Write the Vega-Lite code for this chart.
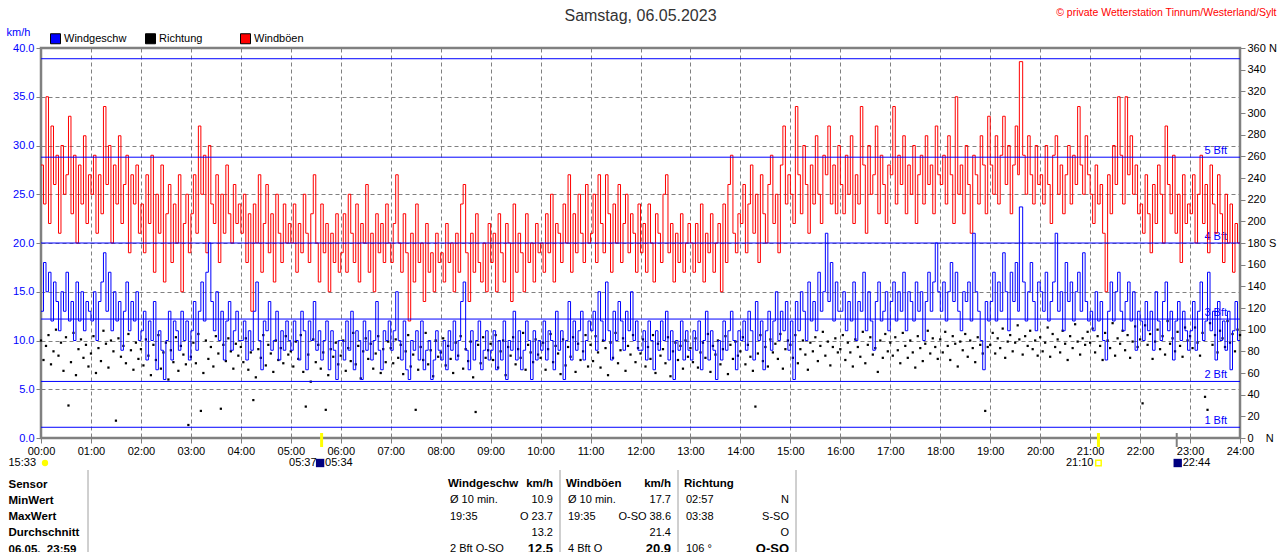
{
  "$schema": "https://vega.github.io/schema/vega-lite/v6.json",
  "width": 1199,
  "height": 390,
  "autosize": {"type": "none"},
  "padding": {"left": 41, "top": 48, "right": 40, "bottom": 114},
  "background": "#ffffff",
  "config": {
    "font": "Liberation Sans",
    "view": {"stroke": "#808080", "strokeWidth": 2.5},
    "axis": {"labelFont": "Liberation Sans", "titleFont": "Liberation Sans", "labelFontSize": 11},
    "text": {"font": "Liberation Sans", "fontSize": 11}
  },
  "title": {
    "text": "Samstag, 06.05.2023",
    "font": "Liberation Sans",
    "fontSize": 16,
    "fontWeight": "normal",
    "color": "#333333",
    "frame": "group",
    "anchor": "middle",
    "offset": -17
  },
  "datasets": {
    "wind": [
      {"t":0,"g":28,"w":13,"d":90},{"t":3,"g":24,"w":18,"d":72},{"t":6,"g":35,"w":15,"d":85},{"t":9,"g":22,"w":17,"d":95},{"t":12,"g":32,"w":12,"d":68},{"t":15,"g":26,"w":16,"d":80},{"t":18,"g":29,"w":14,"d":100},{"t":21,"g":21,"w":11,"d":76},{"t":24,"g":30,"w":15,"d":88},{"t":27,"g":25,"w":13,"d":62},{"t":30,"g":27,"w":17,"d":93},{"t":33,"g":33,"w":12,"d":30},{"t":36,"g":23,"w":14,"d":70},{"t":39,"g":29,"w":10,"d":97},{"t":42,"g":20,"w":16,"d":58},{"t":45,"g":28,"w":12,"d":82},{"t":48,"g":24,"w":15,"d":91},{"t":51,"g":31,"w":11,"d":74},{"t":54,"g":22,"w":14,"d":86},{"t":57,"g":27,"w":13,"d":66},
      {"t":60,"g":25,"w":12,"d":78},{"t":63,"g":29,"w":15,"d":94},{"t":66,"g":21,"w":10,"d":60},{"t":69,"g":27,"w":14,"d":83},{"t":72,"g":23,"w":16,"d":71},{"t":75,"g":34,"w":19,"d":99},{"t":78,"g":26,"w":13,"d":87},{"t":81,"g":30,"w":17,"d":65},{"t":84,"g":20,"w":11,"d":90},{"t":87,"g":28,"w":15,"d":80},{"t":90,"g":24,"w":12,"d":16},{"t":93,"g":31,"w":14,"d":92},{"t":96,"g":22,"w":9,"d":75},{"t":99,"g":26,"w":13,"d":85},{"t":102,"g":29,"w":16,"d":69},{"t":105,"g":19,"w":11,"d":96},{"t":108,"g":27,"w":14,"d":81},{"t":111,"g":24,"w":12,"d":63},{"t":114,"g":28,"w":15,"d":88},{"t":117,"g":21,"w":10,"d":73},
      {"t":120,"g":24,"w":11,"d":82},{"t":123,"g":19,"w":13,"d":67},{"t":126,"g":27,"w":8,"d":91},{"t":129,"g":22,"w":12,"d":76},{"t":132,"g":29,"w":10,"d":58},{"t":135,"g":17,"w":14,"d":86},{"t":138,"g":25,"w":7,"d":72},{"t":141,"g":21,"w":11,"d":95},{"t":144,"g":28,"w":9,"d":64},{"t":147,"g":16,"w":6,"d":79},{"t":150,"g":23,"w":10,"d":88},{"t":153,"g":26,"w":13,"d":54},{"t":156,"g":18,"w":8,"d":81},{"t":159,"g":24,"w":12,"d":70},{"t":162,"g":20,"w":11,"d":93},{"t":165,"g":27,"w":9,"d":62},{"t":168,"g":15,"w":13,"d":85},{"t":171,"g":22,"w":10,"d":77},{"t":174,"g":25,"w":12,"d":68},{"t":177,"g":19,"w":8,"d":12},
      {"t":180,"g":23,"w":11,"d":75},{"t":183,"g":27,"w":14,"d":88},{"t":186,"g":21,"w":9,"d":69},{"t":189,"g":32,"w":13,"d":96},{"t":192,"g":25,"w":16,"d":25},{"t":195,"g":29,"w":12,"d":60},{"t":198,"g":19,"w":17,"d":90},{"t":201,"g":30,"w":20,"d":73},{"t":204,"g":24,"w":14,"d":84},{"t":207,"g":22,"w":11,"d":66},{"t":210,"g":27,"w":15,"d":94},{"t":213,"g":18,"w":10,"d":78},{"t":216,"g":25,"w":13,"d":27},{"t":219,"g":21,"w":8,"d":86},{"t":222,"g":28,"w":12,"d":71},{"t":225,"g":23,"w":14,"d":92},{"t":228,"g":20,"w":9,"d":80},{"t":231,"g":26,"w":11,"d":64},{"t":234,"g":22,"w":13,"d":87},{"t":237,"g":24,"w":10,"d":76},
      {"t":240,"g":21,"w":10,"d":84},{"t":243,"g":25,"w":12,"d":70},{"t":246,"g":18,"w":8,"d":92},{"t":249,"g":23,"w":11,"d":63},{"t":252,"g":13,"w":9,"d":79},{"t":255,"g":24,"w":13,"d":35},{"t":258,"g":20,"w":16,"d":56},{"t":261,"g":27,"w":10,"d":82},{"t":264,"g":17,"w":7,"d":74},{"t":267,"g":22,"w":12,"d":95},{"t":270,"g":26,"w":11,"d":67},{"t":273,"g":19,"w":14,"d":86},{"t":276,"g":23,"w":9,"d":78},{"t":279,"g":16,"w":10,"d":61},{"t":282,"g":25,"w":13,"d":90},{"t":285,"g":21,"w":8,"d":72},{"t":288,"g":18,"w":11,"d":83},{"t":291,"g":24,"w":9,"d":69},{"t":294,"g":20,"w":12,"d":94},{"t":297,"g":22,"w":10,"d":77},
      {"t":300,"g":20,"w":9,"d":80},{"t":303,"g":24,"w":12,"d":66},{"t":306,"g":17,"w":10,"d":89},{"t":309,"g":22,"w":8,"d":73},{"t":312,"g":19,"w":13,"d":95},{"t":315,"g":25,"w":11,"d":61},{"t":318,"g":21,"w":7,"d":29},{"t":321,"g":18,"w":12,"d":77},{"t":324,"g":23,"w":10,"d":52},{"t":327,"g":27,"w":14,"d":91},{"t":330,"g":20,"w":9,"d":70},{"t":333,"g":16,"w":11,"d":86},{"t":336,"g":24,"w":8,"d":64},{"t":339,"g":19,"w":10,"d":79},{"t":342,"g":22,"w":12,"d":26},{"t":345,"g":15,"w":7,"d":58},{"t":348,"g":21,"w":11,"d":82},{"t":351,"g":18,"w":9,"d":75},{"t":354,"g":23,"w":6,"d":88},{"t":357,"g":17,"w":10,"d":68},
      {"t":360,"g":19,"w":10,"d":76},{"t":363,"g":23,"w":8,"d":90},{"t":366,"g":17,"w":12,"d":62},{"t":369,"g":25,"w":9,"d":83},{"t":372,"g":21,"w":13,"d":71},{"t":375,"g":18,"w":7,"d":97},{"t":378,"g":24,"w":11,"d":68},{"t":381,"g":16,"w":10,"d":85},{"t":384,"g":22,"w":6,"d":55},{"t":387,"g":20,"w":12,"d":80},{"t":390,"g":26,"w":9,"d":92},{"t":393,"g":17,"w":11,"d":73},{"t":396,"g":21,"w":8,"d":87},{"t":399,"g":15,"w":10,"d":64},{"t":402,"g":23,"w":14,"d":78},{"t":405,"g":19,"w":9,"d":94},{"t":408,"g":22,"w":7,"d":60},{"t":411,"g":18,"w":11,"d":82},{"t":414,"g":24,"w":10,"d":70},{"t":417,"g":20,"w":12,"d":89},
      {"t":420,"g":18,"w":9,"d":83},{"t":423,"g":22,"w":11,"d":69},{"t":426,"g":27,"w":15,"d":91},{"t":429,"g":20,"w":10,"d":74},{"t":432,"g":17,"w":8,"d":86},{"t":435,"g":23,"w":12,"d":59},{"t":438,"g":19,"w":7,"d":80},{"t":441,"g":12,"w":6,"d":95},{"t":444,"g":21,"w":10,"d":66},{"t":447,"g":16,"w":9,"d":77},{"t":450,"g":24,"w":11,"d":26},{"t":453,"g":18,"w":8,"d":63},{"t":456,"g":20,"w":12,"d":84},{"t":459,"g":14,"w":7,"d":72},{"t":462,"g":22,"w":9,"d":97},{"t":465,"g":17,"w":10,"d":68},{"t":468,"g":19,"w":6,"d":81},{"t":471,"g":15,"w":8,"d":57},{"t":474,"g":21,"w":11,"d":90},{"t":477,"g":18,"w":9,"d":75},
      {"t":480,"g":19,"w":8,"d":79},{"t":483,"g":16,"w":10,"d":92},{"t":486,"g":22,"w":7,"d":67},{"t":489,"g":18,"w":11,"d":85},{"t":492,"g":20,"w":9,"d":73},{"t":495,"g":15,"w":12,"d":60},{"t":498,"g":21,"w":8,"d":88},{"t":501,"g":17,"w":10,"d":76},{"t":504,"g":24,"w":14,"d":94},{"t":507,"g":26,"w":16,"d":64},{"t":510,"g":19,"w":9,"d":82},{"t":513,"g":14,"w":7,"d":71},{"t":516,"g":21,"w":11,"d":89},{"t":519,"g":17,"w":8,"d":56},{"t":522,"g":23,"w":10,"d":24},{"t":525,"g":18,"w":12,"d":86},{"t":528,"g":16,"w":7,"d":69},{"t":531,"g":20,"w":9,"d":93},{"t":534,"g":15,"w":11,"d":74},{"t":537,"g":22,"w":8,"d":81},
      {"t":540,"g":18,"w":9,"d":87},{"t":543,"g":21,"w":11,"d":72},{"t":546,"g":15,"w":7,"d":95},{"t":549,"g":23,"w":10,"d":65},{"t":552,"g":19,"w":8,"d":80},{"t":555,"g":16,"w":12,"d":90},{"t":558,"g":22,"w":6,"d":58},{"t":561,"g":20,"w":10,"d":84},{"t":564,"g":14,"w":9,"d":76},{"t":567,"g":24,"w":13,"d":93},{"t":570,"g":17,"w":8,"d":68},{"t":573,"g":21,"w":11,"d":82},{"t":576,"g":19,"w":7,"d":74},{"t":579,"g":15,"w":9,"d":97},{"t":582,"g":23,"w":12,"d":63},{"t":585,"g":18,"w":10,"d":86},{"t":588,"g":20,"w":6,"d":79},{"t":591,"g":16,"w":11,"d":70},{"t":594,"g":22,"w":8,"d":91},{"t":597,"g":19,"w":10,"d":77},
      {"t":600,"g":20,"w":9,"d":74},{"t":603,"g":17,"w":12,"d":88},{"t":606,"g":23,"w":8,"d":63},{"t":609,"g":19,"w":11,"d":82},{"t":612,"g":25,"w":10,"d":96},{"t":615,"g":16,"w":7,"d":70},{"t":618,"g":22,"w":13,"d":85},{"t":621,"g":21,"w":9,"d":78},{"t":624,"g":18,"w":11,"d":59},{"t":627,"g":24,"w":6,"d":91},{"t":630,"g":20,"w":10,"d":67},{"t":633,"g":27,"w":14,"d":84},{"t":636,"g":17,"w":8,"d":75},{"t":639,"g":23,"w":12,"d":93},{"t":642,"g":19,"w":9,"d":61},{"t":645,"g":25,"w":11,"d":87},{"t":648,"g":21,"w":13,"d":72},{"t":651,"g":18,"w":8,"d":80},{"t":654,"g":26,"w":10,"d":95},{"t":657,"g":20,"w":12,"d":66},
      {"t":660,"g":21,"w":11,"d":86},{"t":663,"g":25,"w":13,"d":71},{"t":666,"g":18,"w":9,"d":94},{"t":669,"g":27,"w":15,"d":79},{"t":672,"g":22,"w":12,"d":65},{"t":675,"g":19,"w":10,"d":90},{"t":678,"g":27,"w":16,"d":83},{"t":681,"g":23,"w":11,"d":58},{"t":684,"g":17,"w":8,"d":88},{"t":687,"g":24,"w":13,"d":74},{"t":690,"g":20,"w":10,"d":97},{"t":693,"g":26,"w":14,"d":69},{"t":696,"g":18,"w":12,"d":81},{"t":699,"g":22,"w":9,"d":92},{"t":702,"g":25,"w":13,"d":62},{"t":705,"g":19,"w":11,"d":85},{"t":708,"g":23,"w":15,"d":77},{"t":711,"g":21,"w":10,"d":95},{"t":714,"g":17,"w":12,"d":70},{"t":717,"g":24,"w":9,"d":83},
      {"t":720,"g":19,"w":9,"d":78},{"t":723,"g":22,"w":11,"d":91},{"t":726,"g":17,"w":8,"d":66},{"t":729,"g":24,"w":12,"d":84},{"t":732,"g":20,"w":10,"d":73},{"t":735,"g":16,"w":7,"d":95},{"t":738,"g":23,"w":11,"d":60},{"t":741,"g":21,"w":9,"d":87},{"t":744,"g":18,"w":12,"d":76},{"t":747,"g":25,"w":10,"d":82},{"t":750,"g":27,"w":13,"d":69},{"t":753,"g":19,"w":8,"d":93},{"t":756,"g":22,"w":11,"d":57},{"t":759,"g":16,"w":6,"d":80},{"t":762,"g":21,"w":10,"d":88},{"t":765,"g":18,"w":9,"d":72},{"t":768,"g":23,"w":12,"d":85},{"t":771,"g":17,"w":8,"d":64},{"t":774,"g":20,"w":11,"d":90},{"t":777,"g":22,"w":9,"d":75},
      {"t":780,"g":20,"w":8,"d":83},{"t":783,"g":17,"w":11,"d":70},{"t":786,"g":22,"w":9,"d":92},{"t":789,"g":18,"w":12,"d":65},{"t":792,"g":24,"w":7,"d":79},{"t":795,"g":16,"w":10,"d":88},{"t":798,"g":21,"w":13,"d":74},{"t":801,"g":19,"w":8,"d":96},{"t":804,"g":23,"w":11,"d":61},{"t":807,"g":17,"w":9,"d":85},{"t":810,"g":20,"w":6,"d":77},{"t":813,"g":22,"w":10,"d":90},{"t":816,"g":15,"w":8,"d":68},{"t":819,"g":24,"w":12,"d":82},{"t":822,"g":18,"w":9,"d":94},{"t":825,"g":26,"w":11,"d":59},{"t":828,"g":29,"w":13,"d":86},{"t":831,"g":21,"w":10,"d":73},{"t":834,"g":19,"w":7,"d":89},{"t":837,"g":23,"w":11,"d":76},
      {"t":840,"g":22,"w":10,"d":80},{"t":843,"g":26,"w":12,"d":93},{"t":846,"g":19,"w":9,"d":68},{"t":849,"g":24,"w":13,"d":86},{"t":852,"g":28,"w":11,"d":75},{"t":855,"g":21,"w":8,"d":62},{"t":858,"g":25,"w":14,"d":29},{"t":861,"g":18,"w":10,"d":78},{"t":864,"g":27,"w":12,"d":95},{"t":867,"g":23,"w":7,"d":71},{"t":870,"g":20,"w":11,"d":84},{"t":873,"g":26,"w":13,"d":66},{"t":876,"g":29,"w":9,"d":91},{"t":879,"g":22,"w":12,"d":79},{"t":882,"g":25,"w":15,"d":87},{"t":885,"g":19,"w":10,"d":73},{"t":888,"g":28,"w":13,"d":96},{"t":891,"g":32,"w":11,"d":64},{"t":894,"g":24,"w":14,"d":82},{"t":897,"g":27,"w":9,"d":90},
      {"t":900,"g":25,"w":12,"d":86},{"t":903,"g":22,"w":6,"d":74},{"t":906,"g":34,"w":14,"d":95},{"t":909,"g":27,"w":11,"d":69},{"t":912,"g":23,"w":15,"d":82},{"t":915,"g":30,"w":13,"d":90},{"t":918,"g":26,"w":10,"d":77},{"t":921,"g":21,"w":16,"d":63},{"t":924,"g":28,"w":12,"d":88},{"t":927,"g":24,"w":14,"d":80},{"t":930,"g":31,"w":11,"d":93},{"t":933,"g":25,"w":17,"d":71},{"t":936,"g":22,"w":13,"d":85},{"t":939,"g":29,"w":15,"d":98},{"t":942,"g":27,"w":21,"d":76},{"t":945,"g":32,"w":14,"d":89},{"t":948,"g":24,"w":18,"d":67},{"t":951,"g":28,"w":12,"d":84},{"t":954,"g":23,"w":16,"d":92},{"t":957,"g":30,"w":13,"d":79},
      {"t":960,"g":26,"w":13,"d":82},{"t":963,"g":23,"w":15,"d":95},{"t":966,"g":29,"w":11,"d":72},{"t":969,"g":25,"w":14,"d":88},{"t":972,"g":31,"w":12,"d":79},{"t":975,"g":22,"w":16,"d":66},{"t":978,"g":27,"w":10,"d":91},{"t":981,"g":24,"w":14,"d":84},{"t":984,"g":34,"w":13,"d":75},{"t":987,"g":28,"w":17,"d":98},{"t":990,"g":21,"w":11,"d":69},{"t":993,"g":30,"w":15,"d":86},{"t":996,"g":25,"w":12,"d":93},{"t":999,"g":27,"w":9,"d":77},{"t":1002,"g":32,"w":14,"d":83},{"t":1005,"g":23,"w":16,"d":61},{"t":1008,"g":29,"w":12,"d":90},{"t":1011,"g":26,"w":13,"d":74},{"t":1014,"g":22,"w":15,"d":96},{"t":1017,"g":28,"w":11,"d":80},
      {"t":1020,"g":27,"w":14,"d":88},{"t":1023,"g":34,"w":16,"d":76},{"t":1026,"g":24,"w":12,"d":93},{"t":1029,"g":29,"w":15,"d":81},{"t":1032,"g":26,"w":13,"d":69},{"t":1035,"g":31,"w":17,"d":97},{"t":1038,"g":23,"w":11,"d":85},{"t":1041,"g":28,"w":15,"d":74},{"t":1044,"g":25,"w":14,"d":90},{"t":1047,"g":30,"w":12,"d":79},{"t":1050,"g":22,"w":16,"d":65},{"t":1053,"g":27,"w":13,"d":94},{"t":1056,"g":29,"w":15,"d":83},{"t":1059,"g":24,"w":10,"d":71},{"t":1062,"g":31,"w":14,"d":87},{"t":1065,"g":26,"w":17,"d":99},{"t":1068,"g":28,"w":13,"d":78},{"t":1071,"g":23,"w":16,"d":92},{"t":1074,"g":32,"w":20,"d":84},{"t":1077,"g":27,"w":15,"d":73},
      {"t":1080,"g":26,"w":13,"d":91},{"t":1083,"g":29,"w":16,"d":79},{"t":1086,"g":24,"w":12,"d":98},{"t":1089,"g":31,"w":15,"d":85},{"t":1092,"g":27,"w":18,"d":72},{"t":1095,"g":22,"w":14,"d":94},{"t":1098,"g":35,"w":17,"d":87},{"t":1101,"g":25,"w":13,"d":66},{"t":1104,"g":28,"w":11,"d":89},{"t":1107,"g":23,"w":15,"d":81},{"t":1110,"g":30,"w":14,"d":96},{"t":1113,"g":26,"w":16,"d":75},{"t":1116,"g":21,"w":12,"d":90},{"t":1119,"g":29,"w":21,"d":83},{"t":1122,"g":27,"w":15,"d":70},{"t":1125,"g":24,"w":13,"d":93},{"t":1128,"g":31,"w":10,"d":86},{"t":1131,"g":28,"w":7,"d":78},{"t":1134,"g":23,"w":14,"d":25},{"t":1137,"g":33,"w":12,"d":84},
      {"t":1140,"g":28,"w":14,"d":86},{"t":1143,"g":25,"w":17,"d":97},{"t":1146,"g":31,"w":12,"d":78},{"t":1149,"g":24,"w":16,"d":92},{"t":1152,"g":29,"w":13,"d":83},{"t":1155,"g":33,"w":19,"d":101},{"t":1158,"g":26,"w":15,"d":74},{"t":1161,"g":30,"w":11,"d":89},{"t":1164,"g":23,"w":17,"d":95},{"t":1167,"g":28,"w":14,"d":80},{"t":1170,"g":32,"w":18,"d":88},{"t":1173,"g":27,"w":13,"d":104},{"t":1175,"g":38.6,"w":23.7,"d":91},{"t":1179,"g":29,"w":16,"d":77},{"t":1182,"g":25,"w":12,"d":94},{"t":1185,"g":31,"w":15,"d":85},{"t":1188,"g":27,"w":18,"d":99},{"t":1191,"g":24,"w":14,"d":82},{"t":1194,"g":30,"w":11,"d":90},{"t":1197,"g":26,"w":16,"d":76},
      {"t":1200,"g":27,"w":15,"d":93},{"t":1203,"g":24,"w":13,"d":80},{"t":1206,"g":30,"w":17,"d":88},{"t":1209,"g":26,"w":12,"d":102},{"t":1212,"g":22,"w":14,"d":75},{"t":1215,"g":29,"w":16,"d":96},{"t":1218,"g":31,"w":21,"d":84},{"t":1221,"g":25,"w":13,"d":91},{"t":1224,"g":28,"w":15,"d":79},{"t":1227,"g":23,"w":11,"d":99},{"t":1230,"g":27,"w":18,"d":87},{"t":1233,"g":30,"w":14,"d":72},{"t":1236,"g":24,"w":16,"d":94},{"t":1239,"g":29,"w":12,"d":83},{"t":1242,"g":26,"w":15,"d":105},{"t":1245,"g":34,"w":17,"d":89},{"t":1248,"g":28,"w":13,"d":77},{"t":1251,"g":25,"w":19,"d":92},{"t":1254,"g":31,"w":14,"d":86},{"t":1257,"g":27,"w":12,"d":98},
      {"t":1260,"g":25,"w":13,"d":88},{"t":1263,"g":22,"w":11,"d":101},{"t":1266,"g":28,"w":15,"d":79},{"t":1269,"g":24,"w":12,"d":94},{"t":1272,"g":26,"w":14,"d":85},{"t":1275,"g":21,"w":10,"d":72},{"t":1278,"g":15,"w":8,"d":97},{"t":1281,"g":27,"w":13,"d":90},{"t":1284,"g":23,"w":16,"d":83},{"t":1287,"g":30,"w":12,"d":106},{"t":1290,"g":26,"w":15,"d":76},{"t":1293,"g":35,"w":17,"d":92},{"t":1296,"g":29,"w":13,"d":87},{"t":1299,"g":24,"w":11,"d":99},{"t":1302,"g":35,"w":14,"d":81},{"t":1305,"g":27,"w":16,"d":95},{"t":1308,"g":31,"w":12,"d":74},{"t":1311,"g":25,"w":15,"d":89},{"t":1314,"g":28,"w":9,"d":103},{"t":1317,"g":23,"w":13,"d":84},
      {"t":1320,"g":24,"w":12,"d":91},{"t":1323,"g":21,"w":10,"d":32},{"t":1326,"g":27,"w":14,"d":104},{"t":1329,"g":23,"w":11,"d":86},{"t":1332,"g":19,"w":13,"d":96},{"t":1335,"g":26,"w":9,"d":73},{"t":1338,"g":22,"w":15,"d":89},{"t":1341,"g":28,"w":12,"d":100},{"t":1344,"g":25,"w":10,"d":82},{"t":1347,"g":20,"w":14,"d":94},{"t":1350,"g":32,"w":16,"d":77},{"t":1353,"g":26,"w":11,"d":108},{"t":1356,"g":23,"w":13,"d":87},{"t":1359,"g":29,"w":8,"d":92},{"t":1362,"g":21,"w":12,"d":80},{"t":1365,"g":25,"w":14,"d":98},{"t":1368,"g":18,"w":10,"d":85},{"t":1371,"g":27,"w":13,"d":75},{"t":1374,"g":22,"w":11,"d":102},{"t":1377,"g":24,"w":9,"d":90},
      {"t":1380,"g":23,"w":11,"d":94},{"t":1383,"g":27,"w":14,"d":83},{"t":1386,"g":20,"w":9,"d":102},{"t":1389,"g":25,"w":13,"d":88},{"t":1392,"g":29,"w":16,"d":76},{"t":1395,"g":22,"w":10,"d":97},{"t":1398,"g":26,"w":12,"d":38},{"t":1401,"g":19,"w":17,"d":26},{"t":1404,"g":28,"w":11,"d":106},{"t":1407,"g":24,"w":13,"d":86},{"t":1410,"g":21,"w":8,"d":95},{"t":1413,"g":27,"w":14,"d":79},{"t":1416,"g":23,"w":10,"d":99},{"t":1419,"g":18,"w":12,"d":92},{"t":1422,"g":25,"w":9,"d":84},{"t":1425,"g":20,"w":13,"d":108},{"t":1428,"g":24,"w":7,"d":88},{"t":1431,"g":17,"w":11,"d":96},{"t":1434,"g":22,"w":14,"d":80},{"t":1437,"g":20,"w":10,"d":100},{"t":1440,"g":20,"w":10,"d":95}
    ],
    "bft": [
      {"bft": "1 Bft", "kmh": 1.1},
      {"bft": "2 Bft", "kmh": 5.8},
      {"bft": "3 Bft", "kmh": 12.2},
      {"bft": "4 Bft", "kmh": 20},
      {"bft": "5 Bft", "kmh": 28.8},
      {"bft": "6 Bft", "kmh": 38.9}
    ],
    "events": [
      {"t": 0, "ev": "tag", "label": "15:33"},
      {"t": 334, "ev": "moonset", "label": "05:34"},
      {"t": 337, "ev": "sunrise", "label": "05:37"},
      {"t": 1270, "ev": "sunset", "label": "21:10"},
      {"t": 1364, "ev": "moonrise", "label": "22:44"}
    ],
    "table": [
      {"row": "Sensor", "blk": "B1", "l": "Windgeschw", "r": "km/h"},
      {"row": "Sensor", "blk": "B2", "l": "Windböen", "r": "km/h"},
      {"row": "Sensor", "blk": "B3", "l": "Richtung", "r": ""},
      {"row": "MinWert", "blk": "B1", "l": "Ø 10 min.", "r": "10.9"},
      {"row": "MinWert", "blk": "B2", "l": "Ø 10 min.", "r": "17.7"},
      {"row": "MinWert", "blk": "B3", "l": "02:57", "r": "N"},
      {"row": "MaxWert", "blk": "B1", "l": "19:35", "r": "O 23.7"},
      {"row": "MaxWert", "blk": "B2", "l": "19:35", "r": "O-SO 38.6"},
      {"row": "MaxWert", "blk": "B3", "l": "03:38", "r": "S-SO"},
      {"row": "Durchschnitt", "blk": "B1", "l": "", "r": "13.2"},
      {"row": "Durchschnitt", "blk": "B2", "l": "", "r": "21.4"},
      {"row": "Durchschnitt", "blk": "B3", "l": "", "r": "O"},
      {"row": "06.05.\u00a0\u00a023:59", "blk": "B1", "l": "2 Bft O-SO", "r": "12.5"},
      {"row": "06.05.\u00a0\u00a023:59", "blk": "B2", "l": "4 Bft O", "r": "20.9"},
      {"row": "06.05.\u00a0\u00a023:59", "blk": "B3", "l": "106 °", "r": "O-SO"}
    ]
  },
  "layer": [
    {
      "layer": [
        {
          "data": {"name": "bft"},
          "transform": [{"filter": "datum.kmh < 35"}],
          "mark": {"type": "text", "align": "right", "baseline": "bottom", "dx": -13, "dy": -1, "fontSize": 11, "color": "#0000ff"},
          "encoding": {
            "x": {"value": "width"},
            "y": {
              "field": "kmh", "type": "quantitative",
              "scale": {"domain": [0, 40], "nice": false},
              "axis": {
                "values": [0,5,10,15,20,25,30,35,40],
                "format": ".1f",
                "title": "km/h", "titleAngle": 0, "titleX": -35, "titleY": -16,
                "titleAlign": "left", "titleBaseline": "middle",
                "titleColor": "#0000ff", "titleFontWeight": "normal", "titleFontSize": 11,
                "labelColor": "#0000ff", "labelFontSize": 11, "labelPadding": 2, "labelFlush": false,
                "grid": true, "gridColor": "#808080", "gridDash": [4, 3], "gridWidth": 1,
                "domain": false, "tickColor": "#808080", "tickSize": 5
              }
            },
            "text": {"field": "bft"}
          }
        },
        {
          "data": {"name": "wind"},
          "mark": {"type": "line", "interpolate": "step-after", "color": "#ff0000", "strokeWidth": 1},
          "encoding": {
            "x": {
              "field": "t", "type": "quantitative",
              "scale": {"domain": [0, 1440], "nice": false, "zero": false},
              "axis": {
                "values": [0,60,120,180,240,300,360,420,480,540,600,660,720,780,840,900,960,1020,1080,1140,1200,1260,1320,1380,1440],
                "labelExpr": "(datum.value < 600 ? '0' : '') + floor(datum.value / 60) + ':00'",
                "title": null,
                "grid": true, "gridColor": "#808080", "gridDash": [4, 3], "gridWidth": 1,
                "domain": false, "tickColor": "#808080", "tickSize": 5,
                "labelColor": "#000000", "labelFontSize": 11, "labelPadding": 2,
                "labelFlush": false, "labelOverlap": false
              }
            },
            "y": {
              "field": "g", "type": "quantitative",
              "scale": {"domain": [0, 40], "nice": false},
              "axis": {
                "values": [0,5,10,15,20,25,30,35,40],
                "format": ".1f",
                "title": "km/h", "titleAngle": 0, "titleX": -35, "titleY": -16,
                "titleAlign": "left", "titleBaseline": "middle",
                "titleColor": "#0000ff", "titleFontWeight": "normal", "titleFontSize": 11,
                "labelColor": "#0000ff", "labelFontSize": 11, "labelPadding": 2, "labelFlush": false,
                "grid": true, "gridColor": "#808080", "gridDash": [4, 3], "gridWidth": 1,
                "domain": false, "tickColor": "#808080", "tickSize": 5
              }
            }
          }
        }
      ]
    },
    {
      "data": {"name": "wind"},
      "mark": {"type": "point", "shape": "square", "filled": true, "size": 5, "opacity": 1},
      "encoding": {
        "x": {"field": "t", "type": "quantitative", "scale": {"domain": [0, 1440], "nice": false, "zero": false}, "axis": null},
        "y": {
          "field": "d", "type": "quantitative",
          "scale": {"domain": [0, 360], "nice": false},
          "axis": {
            "orient": "right",
            "values": [0,20,40,60,80,100,120,140,160,180,200,220,240,260,280,300,320,340,360],
            "labelExpr": "datum.value === 360 ? '360 N' : datum.value === 180 ? '180 S' : datum.value === 0 ? '0\u00a0\u00a0\u00a0\u00a0N' : datum.label",
            "title": "© private Wetterstation Tinnum/Westerland/Sylt",
            "titleAngle": 0, "titleX": 36, "titleY": -36, "titleAlign": "right", "titleBaseline": "middle",
            "titleColor": "#ff0000", "titleFontWeight": "normal", "titleFontSize": 10.5,
            "grid": false, "domain": false, "tickColor": "#808080", "tickSize": 5,
            "labelColor": "#000000", "labelFontSize": 11, "labelPadding": 2, "labelFlush": false
          }
        },
        "color": {
          "datum": "Richtung", "type": "nominal",
          "scale": {"domain": ["Windgeschw", "Richtung", "Windböen"], "range": ["#0000ff", "#000000", "#ff0000"]},
          "legend": {
            "orient": "none", "legendX": 9, "legendY": -15,
            "direction": "horizontal", "columns": 3, "gridAlign": "all", "columnPadding": 16,
            "title": null,
            "symbolType": "square", "symbolSize": 100, "symbolStrokeColor": "#000000", "symbolStrokeWidth": 1,
            "labelFont": "Liberation Sans", "labelFontSize": 11, "labelOffset": 3,
            "encode": {
              "labels": {"fill": {"condition": {"test": "datum.label === 'Richtung'", "value": "#000000"}, "value": "#0000ff"}},
              "symbols": {"stroke": {"value": "#000000"}, "strokeWidth": {"value": 1}, "opacity": {"value": 1}}
            }
          }
        }
      }
    },
    {
      "layer": [
        {
          "data": {"name": "bft"},
          "mark": {"type": "rule", "color": "#0000ff", "strokeWidth": 1},
          "encoding": {
            "y": {"field": "kmh", "type": "quantitative", "scale": {"domain": [0, 40], "nice": false}, "axis": null}
          }
        },
        {
          "data": {"name": "wind"},
          "mark": {"type": "line", "interpolate": "step-after", "color": "#0000ff", "strokeWidth": 1},
          "encoding": {
            "x": {"field": "t", "type": "quantitative", "scale": {"domain": [0, 1440], "nice": false, "zero": false}, "axis": null},
            "y": {"field": "w", "type": "quantitative", "scale": {"domain": [0, 40], "nice": false}, "axis": null}
          }
        }
      ]
    },
    {
      "data": {"name": "events"},
      "encoding": {
        "x": {"field": "t", "type": "quantitative", "scale": {"domain": [0, 1440], "nice": false, "zero": false}, "axis": null}
      },
      "layer": [
        {
          "transform": [{"filter": "datum.ev === 'sunrise' || datum.ev === 'sunset'"}],
          "mark": {"type": "tick", "color": "#ffff00", "thickness": 3, "size": 14, "opacity": 1},
          "encoding": {
            "y": {"datum": "axis", "type": "nominal", "scale": {"type": "point", "domain": ["axis", "text"], "range": [392, 415], "padding": 0}, "axis": null}
          }
        },
        {
          "transform": [{"filter": "datum.ev === 'moonrise'"}],
          "mark": {"type": "tick", "color": "#808080", "thickness": 2, "size": 14, "opacity": 1},
          "encoding": {"y": {"datum": "axis", "type": "nominal", "axis": null}}
        },
        {
          "transform": [{"filter": "datum.ev === 'tag' || datum.ev === 'sunrise' || datum.ev === 'sunset'"}],
          "mark": {"type": "text", "align": "right", "baseline": "middle", "dx": -5, "fontSize": 11, "color": "#000000"},
          "encoding": {"y": {"datum": "text", "type": "nominal", "axis": null}, "text": {"field": "label"}}
        },
        {
          "transform": [{"filter": "datum.ev === 'moonset' || datum.ev === 'moonrise'"}],
          "mark": {"type": "text", "align": "left", "baseline": "middle", "dx": 6, "fontSize": 11, "color": "#000000"},
          "encoding": {"y": {"datum": "text", "type": "nominal", "axis": null}, "text": {"field": "label"}}
        },
        {
          "transform": [{"filter": "datum.ev === 'moonset' || datum.ev === 'moonrise'"}],
          "mark": {"type": "point", "shape": "square", "filled": true, "size": 70, "color": "#000080", "opacity": 1, "xOffset": 1},
          "encoding": {"y": {"datum": "text", "type": "nominal", "axis": null}}
        },
        {
          "transform": [{"filter": "datum.ev === 'tag'"}],
          "mark": {"type": "point", "shape": "circle", "filled": true, "size": 40, "color": "#ffff00", "opacity": 1, "xOffset": 4},
          "encoding": {"y": {"datum": "text", "type": "nominal", "axis": null}}
        },
        {
          "transform": [{"filter": "datum.ev === 'sunset'"}],
          "mark": {"type": "point", "shape": "square", "filled": false, "size": 30, "color": "#ffff00", "strokeWidth": 1.5, "opacity": 1},
          "encoding": {"y": {"datum": "text", "type": "nominal", "axis": null}}
        }
      ]
    },
    {
      "data": {"name": "table"},
      "encoding": {
        "x": {"field": "blk", "type": "nominal", "scale": {"type": "point", "domain": ["B1", "B2", "B3"], "range": [407, 643], "padding": 0}, "axis": null},
        "y": {
          "field": "row", "type": "nominal",
          "scale": {"type": "point", "domain": ["Sensor", "MinWert", "MaxWert", "Durchschnitt", "06.05.\u00a0\u00a023:59"], "range": [436, 501], "padding": 0},
          "axis": {
            "orient": "left", "title": null, "domain": false, "ticks": false, "tickSize": 0, "grid": false,
            "labelAlign": "left", "labelPadding": 33, "labelFontWeight": "bold", "labelColor": "#000000",
            "labelFontSize": 11.5, "labelBaseline": "middle"
          }
        }
      },
      "layer": [
        {
          "transform": [{"filter": "datum.row !== 'Sensor'"}],
          "mark": {"type": "text", "align": "left", "baseline": "middle", "dx": 2, "fontSize": 11, "color": "#000000"},
          "encoding": {"text": {"field": "l"}}
        },
        {
          "transform": [{"filter": "datum.row === 'Sensor'"}],
          "mark": {"type": "text", "align": "left", "baseline": "middle", "fontSize": 11.5, "fontWeight": "bold", "color": "#000000"},
          "encoding": {"text": {"field": "l"}}
        },
        {
          "transform": [{"filter": "datum.row === 'Sensor'"}],
          "mark": {"type": "text", "align": "right", "baseline": "middle", "dx": 105, "fontSize": 11.5, "fontWeight": "bold", "color": "#000000"},
          "encoding": {"text": {"field": "r"}}
        },
        {
          "transform": [{"filter": "datum.row === 'MinWert' || datum.row === 'MaxWert' || datum.row === 'Durchschnitt'"}],
          "mark": {"type": "text", "align": "right", "baseline": "middle", "dx": 105, "fontSize": 11, "color": "#000000"},
          "encoding": {"text": {"field": "r"}}
        },
        {
          "transform": [{"filter": "indexof(datum.row, '06.05') === 0"}],
          "mark": {"type": "text", "align": "right", "baseline": "middle", "dx": 105, "fontSize": 13, "fontWeight": "bold", "color": "#000000"},
          "encoding": {"text": {"field": "r"}}
        },
        {
          "transform": [{"filter": "datum.row === 'Sensor'"}],
          "mark": {"type": "rule", "color": "#a0a0a0", "strokeWidth": 1, "xOffset": 112, "yOffset": -14, "y2Offset": 12},
          "encoding": {"y2": {"datum": "06.05.\u00a0\u00a023:59"}}
        },
        {
          "transform": [{"filter": "datum.row === 'Sensor' && datum.blk === 'B1'"}],
          "mark": {"type": "rule", "color": "#a0a0a0", "strokeWidth": 1, "xOffset": -360, "yOffset": -14, "y2Offset": 12},
          "encoding": {"y2": {"datum": "06.05.\u00a0\u00a023:59"}}
        }
      ]
    }
  ],
  "resolve": {"scale": {"x": "independent", "y": "independent"}}
}
